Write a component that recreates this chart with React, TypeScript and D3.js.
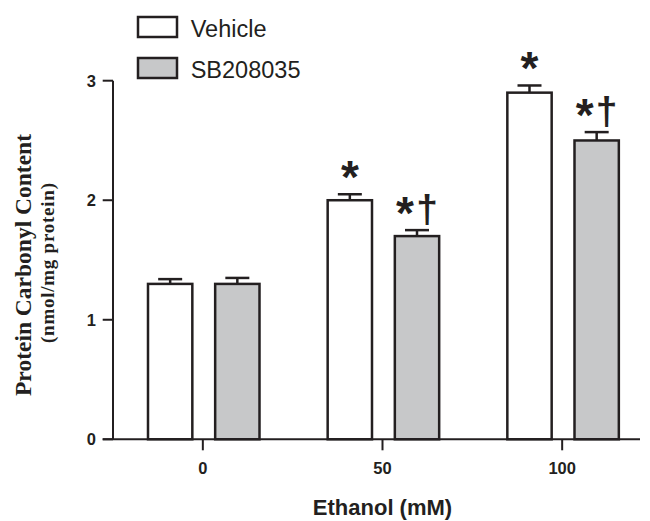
import React from "react";
import * as d3 from "d3";

const categories = ["0", "50", "100"];
const seriesNames = ["Vehicle", "SB208035"];
const vehicleValues = [1.3, 2.0, 2.9];
const vehicleErrors = [0.04, 0.05, 0.06];
const sbValues = [1.3, 1.7, 2.5];
const sbErrors = [0.05, 0.05, 0.07];
const vehicleMarks = ["", "*", "*"];
const sbMarks = ["", "*†", "*†"];
const yTicks = [0, 1, 2, 3];

const W = 650;
const H = 521;
const INK = "#231f20";
const GRAY = "#c7c8c9";
const SANS = "'Liberation Sans', Arial, Helvetica, sans-serif";
const SERIF = "'Liberation Serif', 'Times New Roman', serif";

export default function App() {
  const y = d3.scaleLinear().domain([0, 3]).range([439.3, 80.7]);
  const x0 = d3.scaleBand<string>().domain(categories).range([113, 652]).padding(0);
  const x1 = d3.scaleBand<string>().domain(seriesNames).range([35, 146.5]).paddingInner(0.34).paddingOuter(0);
  const fills = ["#ffffff", GRAY];
  const series = [
    { name: seriesNames[0], values: vehicleValues, errors: vehicleErrors, marks: vehicleMarks, fill: fills[0] },
    { name: seriesNames[1], values: sbValues, errors: sbErrors, marks: sbMarks, fill: fills[1] },
  ];
  const bw = x1.bandwidth();
  const capW = 24;

  return (
    <svg width={W} height={H} style={{ position: "absolute", left: 0, top: 0, background: "#fff" }}>
      <rect x={0} y={0} width={W} height={H} fill="#fff" />
      {series.map((s) =>
        categories.map((c, i) => {
          const bx = (x0(c) as number) + (x1(s.name) as number);
          const cx = bx + bw / 2;
          const top = y(s.values[i]);
          const capY = y(s.values[i] + s.errors[i]);
          const mark = s.marks[i];
          const two = mark.length > 1;
          return (
            <g key={s.name + c}>
              <line x1={cx} x2={cx} y1={top} y2={capY} stroke={INK} strokeWidth={2.5} />
              <line x1={cx - capW / 2} x2={cx + capW / 2} y1={capY} y2={capY} stroke={INK} strokeWidth={2.5} />
              <rect x={bx} y={top} width={bw} height={y(0) - top} fill={s.fill} stroke={INK} strokeWidth={2.5} />
              {mark && (
                <text
                  x={two ? cx - 12 : cx}
                  y={capY - 1}
                  textAnchor="middle"
                  fontFamily={SANS}
                  fontWeight="bold"
                  fontSize={46}
                  fill={INK}
                >
                  {mark[0]}
                </text>
              )}
              {two && (
                <text x={cx + 10} y={capY - 8} textAnchor="middle" fontFamily={SANS} fontWeight="bold" fontSize={39} fill={INK}>
                  {mark.slice(1)}
                </text>
              )}
            </g>
          );
        })
      )}
      <line x1={113} x2={113} y1={y(3)} y2={y(0)} stroke={INK} strokeWidth={2} />
      {yTicks.map((t) => (
        <g key={t}>
          <line x1={102.7} x2={113} y1={y(t)} y2={y(t)} stroke={INK} strokeWidth={2} />
          <text x={96} y={y(t)} dy="0.36em" textAnchor="end" fontFamily={SANS} fontWeight="bold" fontSize={16.5} fill={INK}>
            {t}
          </text>
        </g>
      ))}
      <line x1={102.7} x2={640} y1={y(0)} y2={y(0)} stroke={INK} strokeWidth={2} />
      {categories.map((c) => {
        const cx = (x0(c) as number) + x0.bandwidth() / 2;
        return (
          <g key={c}>
            <line x1={cx} x2={cx} y1={y(0)} y2={y(0) + 11} stroke={INK} strokeWidth={2} />
            <text x={cx} y={474} textAnchor="middle" fontFamily={SANS} fontWeight="bold" fontSize={16.5} fill={INK}>
              {c}
            </text>
          </g>
        );
      })}
      <text x={382.5} y={515} textAnchor="middle" fontFamily={SANS} fontWeight="bold" fontSize={22} fill={INK}>
        Ethanol (mM)
      </text>
      <text transform="translate(31,265) rotate(-90)" textAnchor="middle" fontFamily={SERIF} fontWeight="bold" fontSize={23.5} fill={INK}>
        Protein Carbonyl Content
      </text>
      <text
        transform="translate(54,263) rotate(-90)"
        textAnchor="middle"
        fontFamily={SERIF}
        fontWeight="bold"
        fontSize={19}
        textLength={160}
        lengthAdjust="spacing"
        fill={INK}
      >
        (nmol/mg protein)
      </text>
      {series.map((s, i) => (
        <g key={s.name} transform={`translate(138,${17 + i * 41})`}>
          <rect x={0} y={0} width={39} height={20} fill={s.fill} stroke={INK} strokeWidth={2.5} />
          <text x={52.7} y={20} fontFamily={SANS} fontSize={23.5} fill={INK}>
            {s.name}
          </text>
        </g>
      ))}
    </svg>
  );
}
